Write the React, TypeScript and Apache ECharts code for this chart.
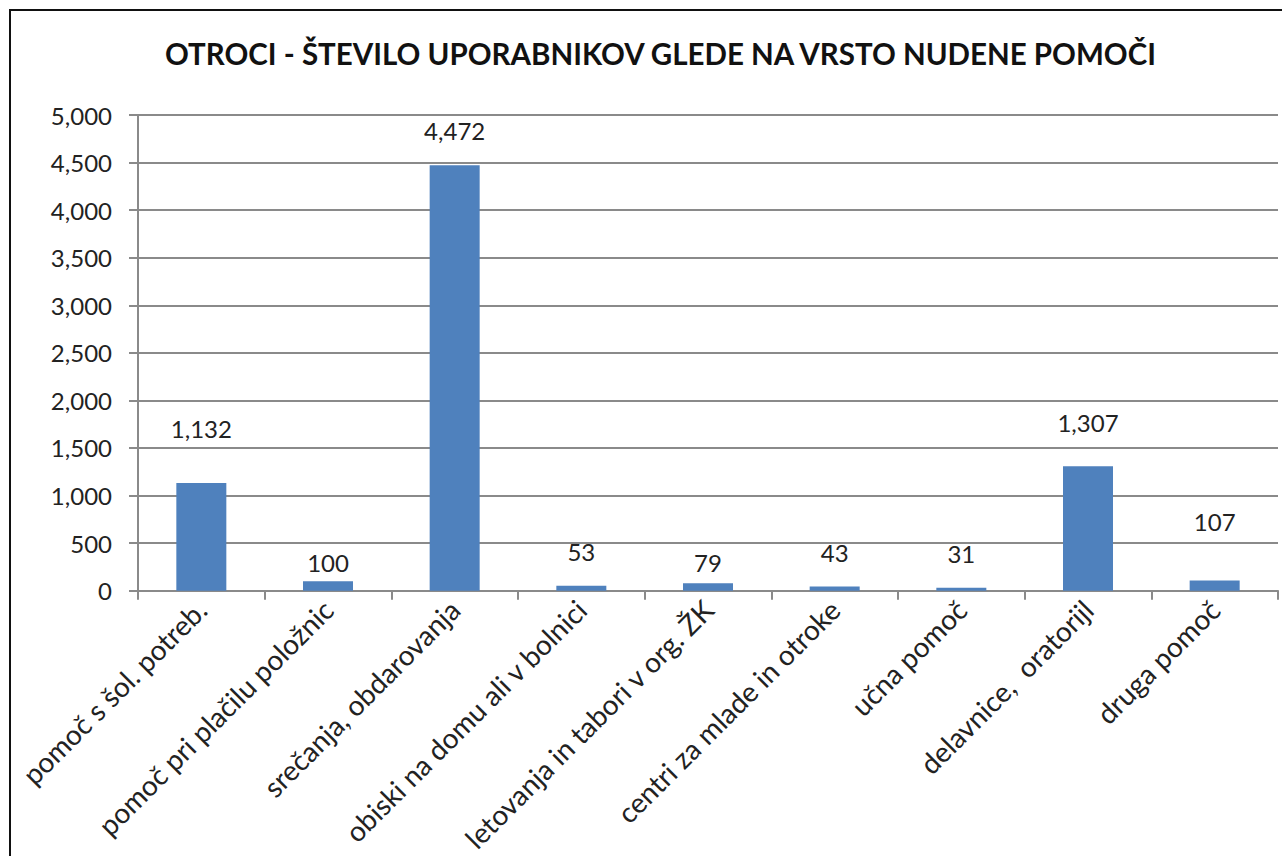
import React, { useEffect, useRef } from "react";
import * as echarts from "echarts";

const title = "OTROCI - ŠTEVILO UPORABNIKOV GLEDE NA VRSTO NUDENE POMOČI";
const categories = [
  "pomoč s šol. potreb.",
  "pomoč pri plačilu položnic",
  "srečanja, obdarovanja",
  "obiski na domu ali v bolnici",
  "letovanja in tabori v org. ŽK",
  "centri za mlade in otroke",
  "učna pomoč",
  "delavnice,  oratorijl",
  "druga pomoč",
];
const values = [1132, 100, 4472, 53, 79, 43, 31, 1307, 107];
const yMin = 0;
const yMax = 5000;
const yStep = 500;

// label gaps above each bar (styling, px)
const labelGaps = [42, 7, 23, 22, 9, 22, 22, 32, 47];

const FONT = "Lato, 'Open Sans', sans-serif";

export default function App() {
  const ref = useRef<HTMLDivElement>(null);
  useEffect(() => {
    if (!ref.current) return;
    const chart = echarts.init(ref.current, undefined, { renderer: "svg" });
    chart.setOption({
      animation: false,
      backgroundColor: "#ffffff",
      textStyle: { fontFamily: FONT },
      title: {
        text: title,
        left: 160,
        top: 33,
        textStyle: { fontFamily: FONT, fontWeight: "bold", fontSize: 29.5, color: "#111" },
      },
      graphic: [
        {
          type: "rect",
          shape: { x: 10, y: 10, width: 1300, height: 900 },
          style: { fill: "none", stroke: "#111", lineWidth: 2 },
          silent: true,
        },
      ],
      grid: { left: 138, right: 4, top: 115, bottom: 265, containLabel: false },
      xAxis: {
        type: "category",
        data: categories,
        axisLine: { lineStyle: { color: "#8a8a8a", width: 2 } },
        axisTick: { show: true, length: 9, lineStyle: { color: "#8a8a8a", width: 2 } },
        axisLabel: {
          rotate: 45,
          interval: 0,
          fontSize: 28,
          color: "#222",
          fontFamily: FONT,
          margin: 14,
        },
      },
      yAxis: {
        type: "value",
        min: yMin,
        max: yMax,
        interval: yStep,
        axisLine: { show: true, lineStyle: { color: "#8a8a8a", width: 2 } },
        axisTick: { show: true, length: 9, lineStyle: { color: "#8a8a8a", width: 2 } },
        splitLine: { show: true, lineStyle: { color: "#8a8a8a", width: 2 } },
        axisLabel: {
          fontSize: 24,
          color: "#222",
          fontFamily: FONT,
          margin: 26,
          formatter: (v: number) => v.toLocaleString("en-US"),
        },
      },
      series: [
        {
          type: "bar",
          barWidth: 50,
          data: values.map((v, i) => ({
            value: v,
            label: { distance: labelGaps[i] },
          })),
          itemStyle: { color: "#4F81BD" },
          label: {
            show: true,
            position: "top",
            fontSize: 24,
            color: "#222",
            fontFamily: FONT,
            formatter: (p: any) => Number(p.value).toLocaleString("en-US"),
          },
        },
      ],
    });
    return () => chart.dispose();
  }, []);
  return (
    <div
      ref={ref}
      style={{ position: "absolute", left: 0, top: 0, width: 1282, height: 856 }}
    />
  );
}
